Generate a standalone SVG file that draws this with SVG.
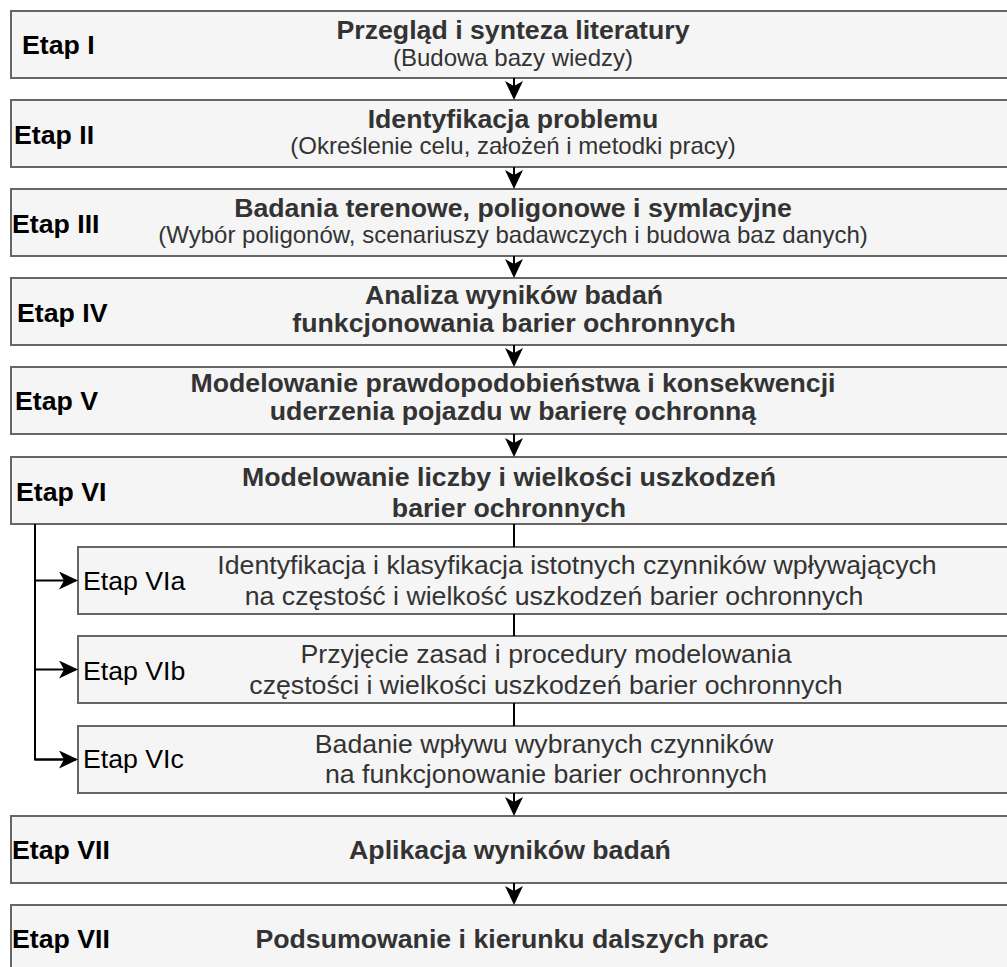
<svg xmlns="http://www.w3.org/2000/svg" width="1007" height="967" viewBox="0 0 1007 967">
<defs>
<marker id="arr" viewBox="0 0 19 18" refX="17" refY="9" markerWidth="19" markerHeight="18" markerUnits="userSpaceOnUse" orient="auto">
<path d="M0,0 L19,9 L0,18 L5,9 z" fill="#000"/>
</marker>
<style>
.box{fill:#f5f5f5;stroke:#666666;stroke-width:2}
.lbl{font-family:"Liberation Sans",Arial,sans-serif;font-size:26.7px;font-weight:bold;fill:#000}
.lblr{font-family:"Liberation Sans",Arial,sans-serif;font-size:26.7px;fill:#000}
.ttl{font-family:"Liberation Sans",Arial,sans-serif;font-size:26.7px;font-weight:bold;fill:#333333;text-anchor:middle}
.sub{font-family:"Liberation Sans",Arial,sans-serif;font-size:24px;fill:#333333;text-anchor:middle}
.txt{font-family:"Liberation Sans",Arial,sans-serif;font-size:26.7px;fill:#333333;text-anchor:middle}
.con{fill:none;stroke:#000;stroke-width:2}
</style>
</defs>
<rect width="1007" height="967" fill="#ffffff"/>

<g id="n1">
<rect class="box" x="11" y="11" width="1030" height="67"/>
<text class="lbl" x="22" y="54">Etap I</text>
<text class="ttl" x="513" y="39">Przegląd i synteza literatury</text>
<text class="sub" x="513" y="66">(Budowa bazy wiedzy)</text>
</g>
<g id="n2">
<rect class="box" x="11" y="100" width="1030" height="67"/>
<text class="lbl" x="14" y="144">Etap II</text>
<text class="ttl" x="513" y="128">Identyfikacja problemu</text>
<text class="sub" x="513" y="154">(Określenie celu, założeń i metodki pracy)</text>
</g>
<g id="n3">
<rect class="box" x="11" y="189" width="1030" height="67"/>
<text class="lbl" x="12" y="233">Etap III</text>
<text class="ttl" x="513" y="217">Badania terenowe, poligonowe i symlacyjne</text>
<text class="sub" x="513" y="243">(Wybór poligonów, scenariuszy badawczych i budowa baz danych)</text>
</g>
<g id="n4">
<rect class="box" x="11" y="278" width="1030" height="67"/>
<text class="lbl" x="17" y="322">Etap IV</text>
<text class="ttl" x="514" y="304">Analiza wyników badań</text>
<text class="ttl" x="514" y="332">funkcjonowania barier ochronnych</text>
</g>
<g id="n5">
<rect class="box" x="11" y="367" width="1030" height="67"/>
<text class="lbl" x="15" y="410">Etap V</text>
<text class="ttl" x="513" y="392">Modelowanie prawdopodobieństwa i konsekwencji</text>
<text class="ttl" x="513" y="420">uderzenia pojazdu w barierę ochronną</text>
</g>
<g id="n6">
<rect class="box" x="11" y="457" width="1030" height="67"/>
<text class="lbl" x="16" y="501">Etap VI</text>
<text class="ttl" x="509" y="486">Modelowanie liczby i wielkości uszkodzeń</text>
<text class="ttl" x="509" y="517">barier ochronnych</text>
</g>
<g id="n6a">
<rect class="box" x="78" y="547" width="1000" height="67"/>
<text class="lblr" x="83" y="590">Etap VIa</text>
<text class="txt" x="577" y="574">Identyfikacja i klasyfikacja istotnych czynników wpływających</text>
<text class="txt" x="554" y="605">na częstość i wielkość uszkodzeń barier ochronnych</text>
</g>
<g id="n6b">
<rect class="box" x="78" y="636" width="1000" height="67"/>
<text class="lblr" x="83" y="680">Etap VIb</text>
<text class="txt" x="546" y="663">Przyjęcie zasad i procedury modelowania</text>
<text class="txt" x="546" y="694">częstości i wielkości uszkodzeń barier ochronnych</text>
</g>
<g id="n6c">
<rect class="box" x="78" y="726" width="1000" height="67"/>
<text class="lblr" x="83" y="768">Etap VIc</text>
<text class="txt" x="544" y="753">Badanie wpływu wybranych czynników</text>
<text class="txt" x="546" y="783">na funkcjonowanie barier ochronnych</text>
</g>
<g id="n7">
<rect class="box" x="11" y="816" width="1030" height="67"/>
<text class="lbl" x="12" y="859">Etap VII</text>
<text class="ttl" x="510" y="859">Aplikacja wyników badań</text>
</g>
<g id="n8">
<rect class="box" x="11" y="905" width="1030" height="80"/>
<text class="lbl" x="12" y="948">Etap VII</text>
<text class="ttl" x="512" y="948">Podsumowanie i kierunku dalszych prac</text>
</g>

<g id="connectors">
<path class="con" d="M514,78 V98" marker-end="url(#arr)"/>
<path class="con" d="M514,167 V187" marker-end="url(#arr)"/>
<path class="con" d="M514,256 V276" marker-end="url(#arr)"/>
<path class="con" d="M514,345 V365" marker-end="url(#arr)"/>
<path class="con" d="M514,434 V455" marker-end="url(#arr)"/>
<path class="con" d="M514,524 V547"/>
<path class="con" d="M514,614 V636"/>
<path class="con" d="M514,703 V726"/>
<path class="con" d="M514,793 V814" marker-end="url(#arr)"/>
<path class="con" d="M514,883 V903" marker-end="url(#arr)"/>
<path class="con" d="M35,524 V759.5 H76"/>
<path class="con" d="M35,580.5 H76" marker-end="url(#arr)"/>
<path class="con" d="M35,669.5 H76" marker-end="url(#arr)"/>
<path class="con" d="M35,759.5 H76" marker-end="url(#arr)"/>
</g>
</svg>
